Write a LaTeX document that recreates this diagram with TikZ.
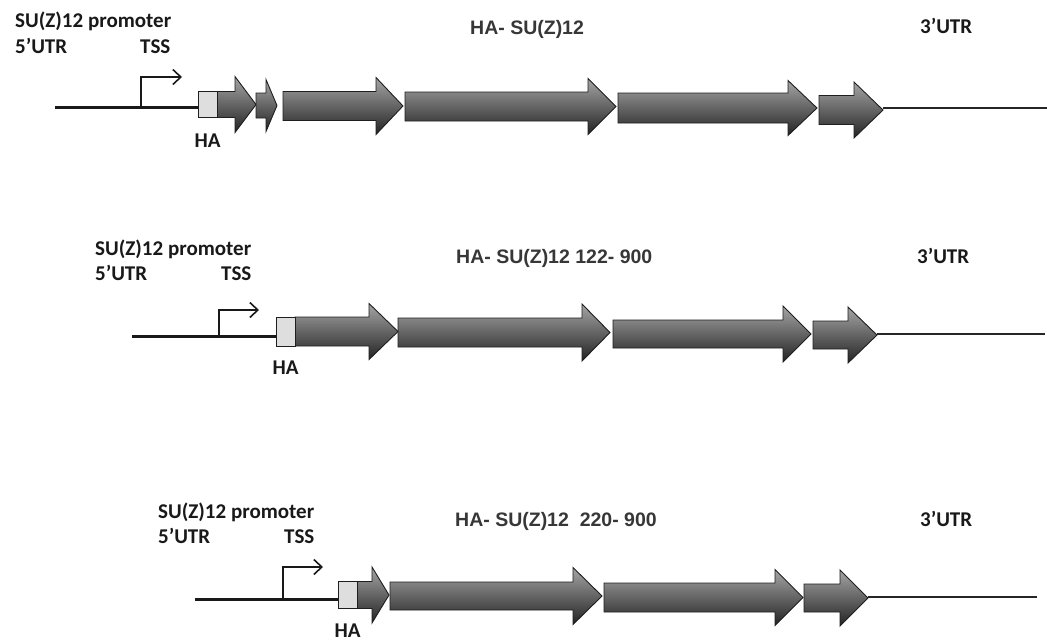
\documentclass[tikz,border=0pt]{standalone}
\usepackage{fontspec}
\setmainfont{Carlito}
\newfontfamily\arialfont{Liberation Sans}
\usetikzlibrary{arrows.meta}
\definecolor{exontop}{RGB}{165,165,165}
\definecolor{exonbot}{RGB}{35,35,35}
\definecolor{haboxfill}{RGB}{222,222,222}
\definecolor{outline}{RGB}{30,30,30}
\definecolor{titlegray}{RGB}{55,55,55}
\tikzset{
  exonshape/.style={draw=outline, line width=0.9pt, line join=miter, top color=exontop, bottom color=exonbot},
  habox/.style={draw=outline, line width=0.9pt, fill=haboxfill},
  promline/.style={line width=3pt, draw=black!90},
  utrline/.style={line width=1.1pt, draw=black!85},
  tsshook/.style={line width=1.4pt, draw=black!90, -{Straight Barb[length=8pt,width=15pt,line width=1.6pt]}},
  lbl/.style={inner sep=0pt, anchor=base west, font=\fontsize{21}{24}\selectfont\bfseries, text=black!90},
  halbl/.style={inner sep=0pt, anchor=base, font=\fontsize{21}{24}\selectfont\bfseries, text=black!90},
  ttl/.style={inner sep=0pt, anchor=base west, font=\arialfont\fontsize{19.5}{24}\selectfont\bfseries, text=titlegray}
}
% #1 left x, #2 head start x, #3 tip x, #4 centre y, #5 body half height, #6 head half height
\newcommand\exonarrow[6]{%
  \path[exonshape] (#1,#4-#5) -- (#2,#4-#5) -- (#2,#4-#6) -- (#3,#4) -- (#2,#4+#6) -- (#2,#4+#5) -- (#1,#4+#5) -- cycle;}
\begin{document}
\begin{tikzpicture}[x=1pt,y=-1pt]
\useasboundingbox (0,0) rectangle (1047,641);
\fill[white] (0,0) rectangle (1047,641);

% ---------------- Row 1 ----------------
\node[lbl] (p1) at (15,27) {SU(Z)12 promoter};
\node[lbl] (u1) at (15,53) {5’UTR};
\node[lbl] (t1) at (140,53) {TSS};
\node[ttl] (h1) at (470,34) {HA- SU(Z)12};
\node[lbl] (r1) at (920,33) {3’UTR};
\coordinate (l1a) at (55,107);
\coordinate (l1b) at (198,107);
\draw[promline] (l1a) -- (l1b);
\coordinate (s1) at (141,107);
\coordinate (s1e) at (182,77);
\draw[tsshook] (s1) |- (s1e);
\exonarrow{217}{235}{256}{104.5}{13}{28}
\exonarrow{256}{266}{277}{105.5}{12.5}{26}
\exonarrow{283}{376}{403}{106}{14.5}{28.5}
\exonarrow{405}{588}{616}{106.5}{14.5}{28}
\exonarrow{618}{788}{817}{108}{15}{27.5}
\exonarrow{819}{854}{883}{110}{14.5}{28}
\draw[habox] (198,91) rectangle (217,117);
\node[halbl] (ha1) at (207.5,147) {HA};
\coordinate (e1a) at (883,108);
\coordinate (e1b) at (1047,108);
\draw[utrline] (e1a) -- (e1b);

% ---------------- Row 2 ----------------
\node[lbl] (p2) at (95,255) {SU(Z)12 promoter};
\node[lbl] (u2) at (95,280) {5’UTR};
\node[lbl] (t2) at (221,280) {TSS};
\node[ttl] (h2) at (456,263) {HA- SU(Z)12 122- 900};
\node[lbl] (r2) at (917,263) {3’UTR};
\coordinate (l2a) at (132,336);
\coordinate (l2b) at (276,336);
\draw[promline] (l2a) -- (l2b);
\coordinate (s2) at (219,336);
\coordinate (s2e) at (259,310);
\draw[tsshook] (s2) |- (s2e);
\exonarrow{295}{369}{398}{331.5}{14.5}{28}
\exonarrow{398}{582}{610}{332.5}{14.5}{28.5}
\exonarrow{613}{783}{811}{334}{14}{28}
\exonarrow{813}{848}{877}{335}{14}{28}
\draw[habox] (276,317) rectangle (295,346);
\node[halbl] (ha2) at (285.5,374) {HA};
\coordinate (e2a) at (877,334);
\coordinate (e2b) at (1045,334);
\draw[utrline] (e2a) -- (e2b);

% ---------------- Row 3 ----------------
\node[lbl] (p3) at (158,518) {SU(Z)12 promoter};
\node[lbl] (u3) at (158,543) {5’UTR};
\node[lbl] (t3) at (284,543) {TSS};
\node[ttl] (h3) at (455,526) {HA- SU(Z)12\ \ 220- 900};
\node[lbl] (r3) at (920,526) {3’UTR};
\coordinate (l3a) at (195,599);
\coordinate (l3b) at (338,599);
\draw[promline] (l3a) -- (l3b);
\coordinate (s3) at (283,599);
\coordinate (s3e) at (323,567);
\draw[tsshook] (s3) |- (s3e);
\exonarrow{357}{372}{389}{595}{13.5}{28}
\exonarrow{390}{573}{602}{596}{14}{28.5}
\exonarrow{604}{775}{803}{597.5}{14.5}{28}
\exonarrow{804}{840}{868}{598}{14}{28}
\draw[habox] (338,581) rectangle (357,608);
\node[halbl] (ha3) at (347.5,637) {HA};
\coordinate (e3a) at (868,597);
\coordinate (e3b) at (1037,597);
\draw[utrline] (e3a) -- (e3b);
\end{tikzpicture}
\end{document}
